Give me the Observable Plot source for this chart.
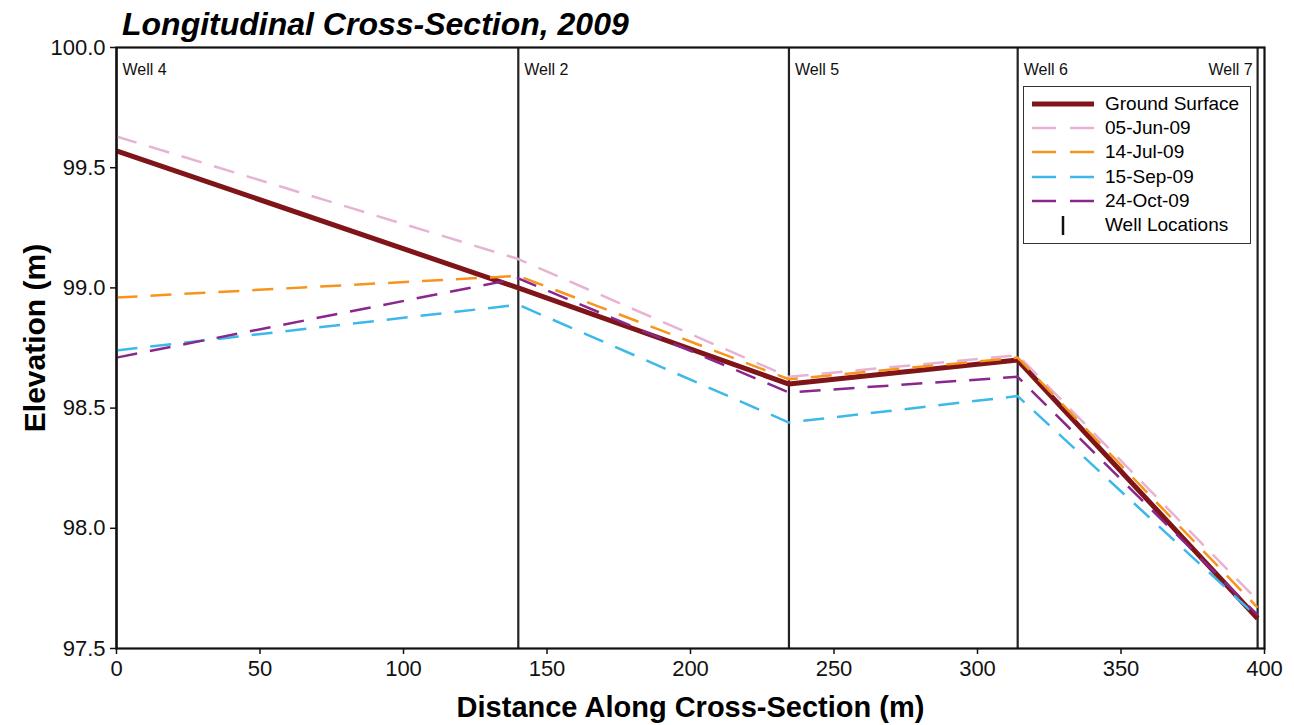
<!DOCTYPE html>
<html>
<head>
<meta charset="utf-8">
<script src="https://cdn.jsdelivr.net/npm/d3@7"></script>
<script src="https://cdn.jsdelivr.net/npm/@observablehq/plot@0.6"></script>
<style>
  html, body { margin: 0; padding: 0; background: #fff; }
  body { width: 1294px; height: 725px; position: relative; overflow: hidden; font-family: "Liberation Sans", Arial, sans-serif; }
  #title { position: absolute; left: 122px; top: 8px; font-size: 32px; line-height: 32px; font-weight: bold; font-style: italic; color: #000; white-space: nowrap; }
  #chart { position: absolute; left: 0; top: 0; }
  #legend { position: absolute; left: 1023px; top: 86px; width: 228px; height: 158px; border: 1px solid #333; background: #fff; box-sizing: border-box; }
  .item { position: absolute; left: 0; height: 24px; width: 100%; }
  .item svg { position: absolute; left: 8px; top: 0; }
  .item span { position: absolute; left: 81px; top: 0; font-size: 19px; line-height: 24px; color: #000; white-space: nowrap; }
</style>
</head>
<body>
<div id="chart"></div>
<div id="title">Longitudinal Cross-Section, 2009</div>
<div id="legend"></div>
<script>
// ---- data ----
const wellNames = ["Well 4", "Well 2", "Well 5", "Well 6", "Well 7"];
const wellDistances = [0, 140, 234.3, 314, 397.6];
const groundSurface = [99.57, 99.00, 98.60, 98.70, 97.625];
const jun05 = [99.63, 99.12, 98.63, 98.72, 97.70];
const jul14 = [98.96, 99.05, 98.62, 98.71, 97.67];
const sep15 = [98.74, 98.93, 98.44, 98.55, 97.63];
const oct24 = [98.71, 99.04, 98.565, 98.63, 97.64];

const seriesNames = ["Ground Surface", "05-Jun-09", "14-Jul-09", "15-Sep-09", "24-Oct-09"];
const seriesValues = [groundSurface, jun05, jul14, sep15, oct24];
const seriesColors = ["#7f1518", "#e8b2d4", "#f7941d", "#3cb8ea", "#8a278c"];

const xTicks = [0, 50, 100, 150, 200, 250, 300, 350, 400];
const yTicks = [97.5, 98.0, 98.5, 99.0, 99.5, 100.0];

const xLabel = "Distance Along Cross-Section (m)";
const yLabel = "Elevation (m)";
const wellLegendLabel = "Well Locations";

// ---- build tables ----
const wells = wellNames.map((name, i) => ({name, x: wellDistances[i]}));
const wellsLeft = wells.slice(0, -1);
const wellsRight = wells.slice(-1);
const series = seriesNames.map((name, s) => ({
  name, color: seriesColors[s],
  points: wellDistances.map((x, i) => ({x, y: seriesValues[s][i], series: name}))
}));

const font = "'Liberation Sans', Arial, sans-serif";

const lineMarks = series.map((s, i) => Plot.line(s.points, {
  x: "x", y: "y",
  stroke: s.color,
  strokeWidth: i === 0 ? 5 : 2.5,
  strokeDasharray: i === 0 ? null : "21,13",
  strokeLinecap: "butt",
  strokeLinejoin: "miter"
}));

const chart = Plot.plot({
  width: 1294,
  height: 725,
  marginLeft: 116,
  marginRight: 30,
  marginTop: 47,
  marginBottom: 77,
  style: {fontFamily: font, background: "transparent", overflow: "visible"},
  x: {domain: [0, 400]},
  y: {domain: [97.5, 100]},
  marks: [
    Plot.axisX({ticks: xTicks, tickSize: 6, tickPadding: 6, fontSize: 22, label: null, stroke: "#111", strokeWidth: 1.5, color: "#111"}),
    Plot.axisY({ticks: yTicks, tickSize: 6, tickPadding: 5, tickFormat: d3.format(".1f"), fontSize: 22, label: null, stroke: "#111", strokeWidth: 1.5, color: "#111"}),
    Plot.ruleX(wells, {x: "x", stroke: "#222", strokeWidth: 2.2}),
    Plot.text(wellsLeft, {x: "x", text: "name", frameAnchor: "top", dy: 22, dx: 6, lineAnchor: "middle", textAnchor: "start", fontSize: 16, fill: "#111"}),
    Plot.text(wellsRight, {x: "x", text: "name", frameAnchor: "top", dy: 22, dx: -5, lineAnchor: "middle", textAnchor: "end", fontSize: 16, fill: "#111"}),
    ...lineMarks,
    Plot.frame({stroke: "#111", strokeWidth: 2.2}),
    Plot.text([xLabel], {text: d => d, frameAnchor: "bottom", dy: 59, lineAnchor: "middle", textAnchor: "middle", fontSize: 29, fontWeight: "bold", fill: "#000"}),
    Plot.text([yLabel], {text: d => d, frameAnchor: "left", dx: -81, dy: -10, rotate: -90, lineAnchor: "middle", textAnchor: "middle", fontSize: 30, fontWeight: "bold", fill: "#000"})
  ]
});
document.getElementById("chart").appendChild(chart);

// ---- legend ----
const legend = document.getElementById("legend");
const ns = "http://www.w3.org/2000/svg";
const legendItems = [...series.map((s, i) => ({name: s.name, color: s.color, kind: i === 0 ? "solid" : "dash"})),
  {name: wellLegendLabel, color: "#111", kind: "well"}];
legendItems.forEach((it, i) => {
  const row = document.createElement("div");
  row.className = "item";
  row.style.top = (5 + i * 24.2) + "px";
  const svg = document.createElementNS(ns, "svg");
  svg.setAttribute("width", 64); svg.setAttribute("height", 24);
  const ln = document.createElementNS(ns, "line");
  if (it.kind === "well") {
    ln.setAttribute("x1", 31); ln.setAttribute("x2", 31);
    ln.setAttribute("y1", 3); ln.setAttribute("y2", 22);
    ln.setAttribute("stroke-width", 2.5);
  } else {
    ln.setAttribute("x1", 0); ln.setAttribute("x2", 62);
    ln.setAttribute("y1", 12); ln.setAttribute("y2", 12);
    ln.setAttribute("stroke-width", it.kind === "solid" ? 5 : 2.5);
    if (it.kind === "dash") ln.setAttribute("stroke-dasharray", "24,14");
  }
  ln.setAttribute("stroke", it.color);
  svg.appendChild(ln);
  row.appendChild(svg);
  const sp = document.createElement("span");
  sp.textContent = it.name;
  row.appendChild(sp);
  legend.appendChild(row);
});
</script>
</body>
</html>
